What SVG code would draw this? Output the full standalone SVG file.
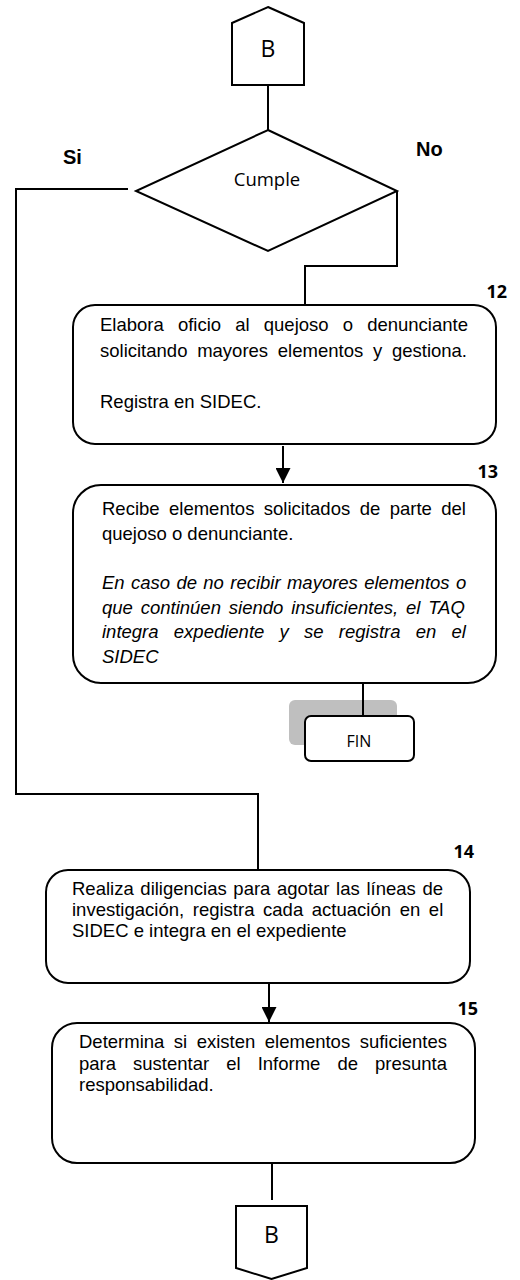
<svg xmlns="http://www.w3.org/2000/svg" width="520" height="1280" viewBox="0 0 520 1280">
<style>
.sh{fill:#fff;stroke:#000;stroke-width:2}
.ln{fill:none;stroke:#000;stroke-width:2}
.t{font-family:"Liberation Sans",Arial,sans-serif;font-size:18.5px;fill:#000}
.it{font-style:italic}
.c{font-family:"Open Sans","Noto Sans",sans-serif;fill:#000}
.num{font-family:"Open Sans","Noto Sans",sans-serif;font-weight:bold;font-size:18px;fill:#000;text-anchor:end}
.lb{font-family:"Liberation Sans",Arial,sans-serif;font-weight:bold;font-size:20px;fill:#000}
</style>
<defs>
<marker id="ah" viewBox="0 0 10 10" refX="10" refY="5" markerUnits="userSpaceOnUse" markerWidth="15" markerHeight="15" orient="auto">
<path d="M0,0 L10,5 L0,10 z" fill="#000"/>
</marker>
</defs>

<g id="connectors">
<path class="ln" d="M268 85 V130"/>
<path class="ln" d="M128 189 H16 V794 H258 V870"/>
<path class="ln" d="M397 191 V266 H305 V305"/>
<path class="ln" d="M283 446 V483" stroke-width="2.5" marker-end="url(#ah)"/>
<path class="ln" d="M363 683 V716"/>
<path class="ln" d="M269 984 V1022" stroke-width="2.5" marker-end="url(#ah)"/>
<path class="ln" d="M272 1163 V1200"/>
<text class="lb" x="63" y="164">Si</text>
<text class="lb" x="416" y="156">No</text>
</g>

<g id="conn-top">
<polygon class="sh" points="268,7 304,23 304,85 232,85 232,23"/>
<text class="c" x="268" y="57" font-size="23" text-anchor="middle">B</text>
</g>

<g id="decision">
<polygon class="sh" points="268,130 397,191 268,251 136,191"/>
<text class="c" x="267" y="186" font-size="18.5" text-anchor="middle">Cumple</text>
</g>

<g id="step12">
<rect class="sh" x="73" y="305" width="423" height="139" rx="22"/>
<text class="num" x="507" y="298">12</text>
<text class="t" x="100" y="331" word-spacing="9">Elabora oficio al quejoso o denunciante</text>
<text class="t" x="100" y="357" word-spacing="4.6">solicitando mayores elementos y gestiona.</text>
<text class="t" x="100" y="408">Registra en SIDEC.</text>
</g>

<g id="step13">
<rect class="sh" x="73" y="485" width="423" height="198" rx="28"/>
<text class="num" x="498" y="478">13</text>
<text class="t" x="102" y="515" word-spacing="4.3">Recibe elementos solicitados de parte del</text>
<text class="t" x="102" y="540">quejoso o denunciante.</text>
<text class="t it" x="102" y="589" word-spacing="1.2">En caso de no recibir mayores elementos o</text>
<text class="t it" x="102" y="613.5" word-spacing="2.7">que continúen siendo insuficientes, el TAQ</text>
<text class="t it" x="102" y="638" word-spacing="10.1">integra expediente y se registra en el</text>
<text class="t it" x="102" y="662.5">SIDEC</text>
</g>

<g id="fin">
<rect x="289" y="700" width="108" height="45" rx="6" fill="#bfbfbf"/>
<path class="ln" d="M363 700 V716"/>
<rect class="sh" x="305" y="716" width="109" height="45" rx="6"/>
<text class="c" x="359" y="747" font-size="16" text-anchor="middle">FIN</text>
</g>

<g id="step14">
<rect class="sh" x="46" y="870" width="424" height="113" rx="22"/>
<text class="num" x="474" y="858">14</text>
<text class="t" x="72" y="895" word-spacing="1.5">Realiza diligencias para agotar las líneas de</text>
<text class="t" x="72" y="916" word-spacing="3.5">investigación, registra cada actuación en el</text>
<text class="t" x="72" y="936.5">SIDEC e integra en el expediente</text>
</g>

<g id="step15">
<rect class="sh" x="52" y="1023" width="423" height="140" rx="25"/>
<text class="num" x="478" y="1015">15</text>
<text class="t" x="79" y="1048" word-spacing="4.35">Determina si existen elementos suficientes</text>
<text class="t" x="79" y="1070" word-spacing="11.9">para sustentar el Informe de presunta</text>
<text class="t" x="79" y="1091">responsabilidad.</text>
</g>

<g id="conn-bottom">
<polygon class="sh" points="236,1206 307,1206 307,1268 271.5,1279 236,1268"/>
<text class="c" x="271.5" y="1243" font-size="23" text-anchor="middle">B</text>
</g>
</svg>
